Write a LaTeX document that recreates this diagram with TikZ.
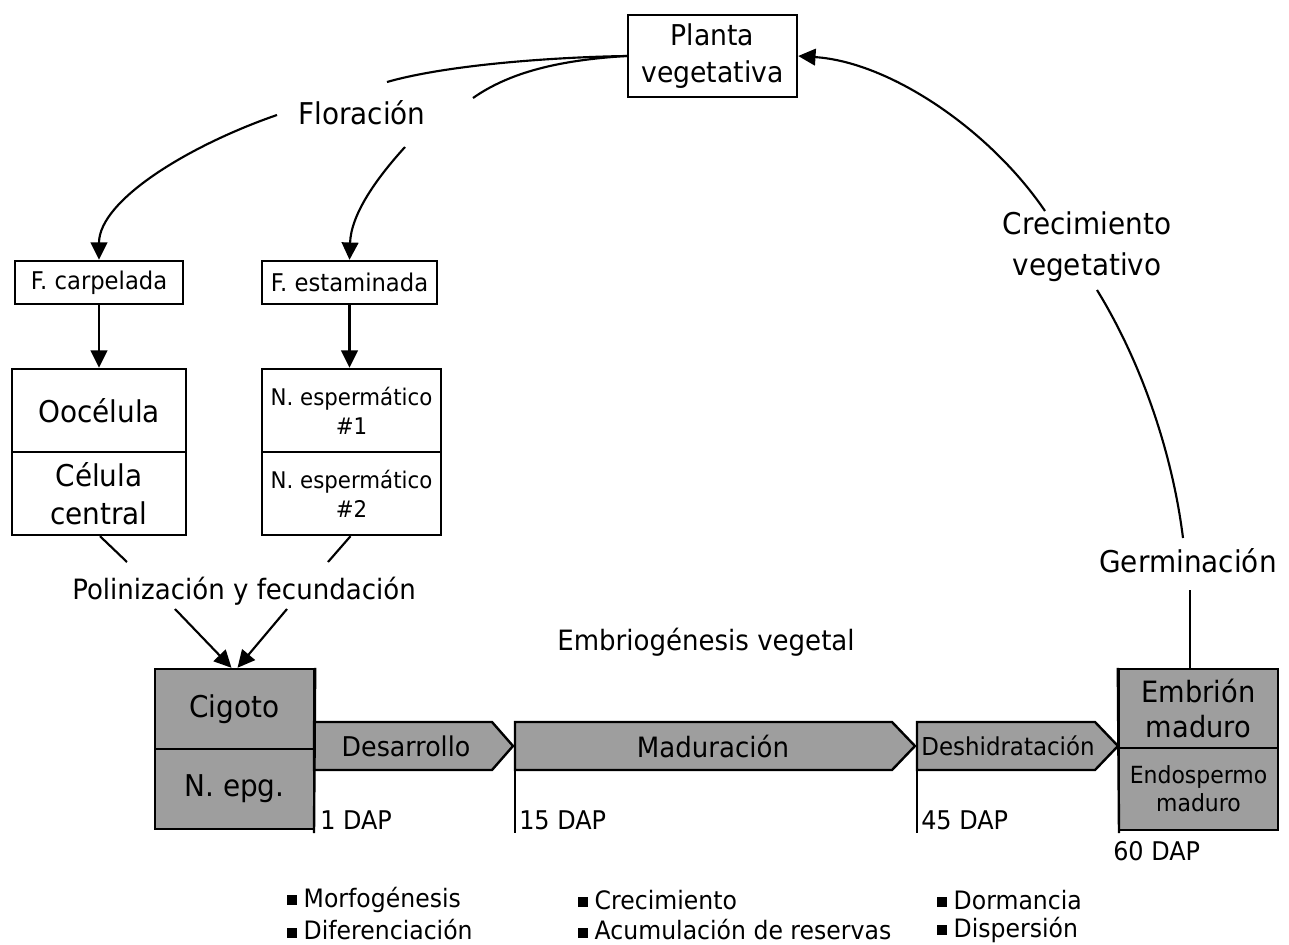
\documentclass[tikz,border=0pt]{standalone}
\usepackage{fontspec}
\setmainfont{DejaVu Sans}[FakeStretch=0.93]
\usetikzlibrary{arrows.meta,calc}
\definecolor{boxgray}{RGB}{158,158,158}
\newcommand{\myfs}[2]{\fontsize{#1}{#2}\selectfont}
\newcommand{\bsq}{\rule[0.08em]{0.4em}{0.4em}\hspace{0.25em}}
\tikzset{
 box/.style={draw, line width=1.8pt, inner sep=0pt, align=center, fill=white},
 gbox/.style={box, fill=boxgray},
 lbl/.style={inner sep=0pt, align=center},
 conn/.style={line width=1.6pt},
 arr/.style={conn, -{Triangle[length=13pt,width=12.5pt]}},
 stage/.style={draw, line width=1.8pt, fill=boxgray, line join=miter},
 tickline/.style={line width=1.8pt},
 bul/.style={inner sep=0pt, anchor=west, font=\myfs{19}{22}},
}
\begin{document}
\begin{tikzpicture}[x=0.75pt,y=-0.75pt]
\useasboundingbox[fill=white] (0,0) rectangle (1289,945);

% boxes
\node[box, minimum width=126.75pt, minimum height=61.5pt, font=\myfs{21.5}{27.5}] (planta) at (712.5,56) {Planta\\vegetativa};
\node[box, minimum width=126pt, minimum height=32.25pt, font=\myfs{18.3}{21}] (fcarp) at (99,282.5) {F. carpelada};
\node[box, minimum width=131.25pt, minimum height=32.25pt, font=\myfs{18.3}{21}] (festam) at (349.5,282.5) {F. estaminada};
\node[box, minimum width=130.5pt, minimum height=62.25pt, font=\myfs{22.5}{27}] (ooc) at (99,410.5) {Oocélula};
\node[box, minimum width=130.5pt, minimum height=62.25pt, font=\myfs{22.5}{28.5}] (cel) at (99,493.5) {Célula\\central};
\node[box, minimum width=134.25pt, minimum height=62.25pt, font=\myfs{17.2}{21.5}] (esp1) at (351.5,410.5) {N. espermático\\\#1};
\node[box, minimum width=134.25pt, minimum height=62.25pt, font=\myfs{17.2}{21.5}] (esp2) at (351.5,493.5) {N. espermático\\\#2};
\node[gbox, minimum width=119.25pt, minimum height=60pt, font=\myfs{22.5}{25}] (cig) at (234.5,709) {Cigoto};
\node[gbox, minimum width=119.25pt, minimum height=60pt, font=\myfs{22.5}{25}] (nepg) at (234.5,789) {N. epg.};
\node[gbox, minimum width=119.25pt, minimum height=59.25pt, font=\myfs{22}{26}] (emb) at (1198.5,708.5) {Embrión\\maduro};
\node[gbox, minimum width=119.25pt, minimum height=61.5pt, font=\myfs{17.7}{21}] (endo) at (1198.5,789) {Endospermo\\maduro};

% labels
\node[lbl, font=\myfs{22.5}{25}] (flor) at (362,113) {Floración};
\node[lbl, font=\myfs{21}{24}] (polin) at (244,591) {Polinización y fecundación};
\node[lbl, font=\myfs{21}{24}] (embrio) at (706,642) {Embriogénesis vegetal};
\node[lbl, font=\myfs{22.5}{30.75}] (crec) at (1087,247) {Crecimiento\\vegetativo};
\node[lbl, font=\myfs{22.5}{25}] (germ) at (1188,561) {Germinación};

% stage arrows
\draw[stage] (314,722) -- (492,722) -- (513,746) -- (492,770) -- (314,770) -- cycle;
\draw[stage] (515,722) -- (892,722) -- (915,746) -- (892,770) -- (515,770) -- cycle;
\draw[stage] (917,722) -- (1095,722) -- (1118,746) -- (1095,770) -- (917,770) -- cycle;
\node[lbl, font=\myfs{20.4}{24}] (desa) at (406,746) {Desarrollo};
\node[lbl, font=\myfs{21}{24}] (madu) at (713,746) {Maduración};
\node[lbl, font=\myfs{18.5}{22}] (desh) at (1008,746) {Deshidratación};

% ticks
\draw[tickline] (cig.north east) -- (314,833);
\draw[tickline] (515,722) -- (515,833);
\draw[tickline] (917,722) -- (917,833);
\draw[tickline] (emb.north west) -- (1119,833);

% DAP labels
\node[lbl, anchor=west, font=\myfs{19.3}{22}] (d1) at (320,820) {1 DAP};
\node[lbl, anchor=west, font=\myfs{19.3}{22}] (d15) at (519,820) {15 DAP};
\node[lbl, anchor=west, font=\myfs{19.3}{22}] (d45) at (921,820) {45 DAP};
\node[lbl, anchor=west, font=\myfs{19.3}{22}] (d60) at (1113,851) {60 DAP};

% bullets
\node[bul] (b1) at (287,900) {\bsq Morfogénesis};
\node[bul] (b2) at (287,930) {\bsq Diferenciación};
\node[bul] (b3) at (578,900) {\bsq Crecimiento};
\node[bul] (b4) at (578,930) {\bsq Acumulación de reservas};
\node[bul] (b5) at (937,900) {\bsq Dormancia};
\node[bul] (b6) at (937,930) {\bsq Dispersión};

% free ends
\coordinate (fa) at (387,82);
\coordinate (fb) at (473,98);
\coordinate (fc) at (277,115);
\coordinate (fd) at (405,147);
\coordinate (ca) at (1045,211);
\coordinate (cb) at (1097,290);
\coordinate (ga) at (1183,538);
\coordinate (gb) at (1190,590);
\coordinate (pa) at (127,562);
\coordinate (pb) at (328,562);
\coordinate (pc) at (175,609);
\coordinate (pd) at (287,609);

% connectors
\draw[conn] (planta.west) .. controls (560,57) and (450,64) .. (fa);
\draw[conn] (planta.west) .. controls (560,60) and (510,72) .. (fb);
\draw[arr] (fc) .. controls (190,145) and (99,200) .. (fcarp.north);
\draw[arr] (fd) .. controls (375,180) and (351,215) .. (festam.north);
\draw[arr] (fcarp.south) -- (ooc.north);
\draw[arr] (festam.south) -- (esp1.north -| festam.south);
\draw[conn] ($(cel.south)+(1,0)$) -- (pa);
\draw[conn] ($(esp2.south)+(-1,0)$) -- (pb);
\draw[arr] (pc) -- ($(cig.north)+(-3,0)$);
\draw[arr] (pd) -- ($(cig.north)+(3,0)$);
\draw[arr] (ca) .. controls (990,130) and (890,62) .. (planta.east);
\draw[conn] (cb) .. controls (1140,360) and (1172,450) .. (ga);
\draw[conn] (gb) -- (emb.north -| gb);
\end{tikzpicture}
\end{document}
